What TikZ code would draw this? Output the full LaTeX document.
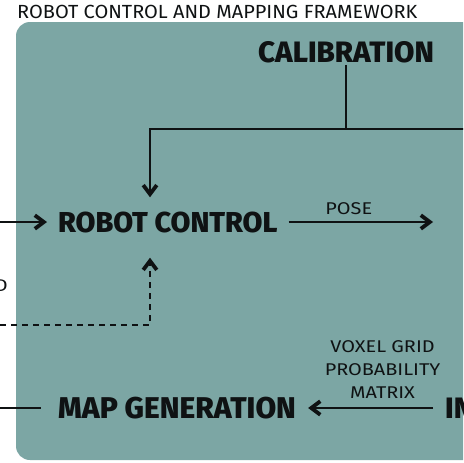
\documentclass[tikz,border=0pt]{standalone}
\usepackage{fontspec}
\setmainfont{Fira Sans}
\newfontfamily\heavyfont{Fira Sans ExtraBold}
\usetikzlibrary{arrows.meta}
\definecolor{panel}{HTML}{7CA6A4}
\definecolor{ink}{HTML}{0F1213}
\tikzset{
  block/.style={font=\heavyfont\fontsize{29.5}{31}\selectfont, text=ink, inner sep=2pt},
  tag/.style={font=\addfontfeatures{FakeStretch=1.17}\fontsize{17}{23}\selectfont, text=ink, align=center, inner sep=1pt},
  arr/.style={draw=ink, line width=1.4pt, -{Straight Barb[length=9pt,width=13.5pt,line width=3.8pt]}},
  wire/.style={draw=ink, line width=1.4pt}
}
\begin{document}
\begin{tikzpicture}[x=1pt,y=-1pt]
    \useasboundingbox (0,0) rectangle (463,463);
    \clip (0,0) rectangle (463,463);
    \fill[panel, rounded corners=14pt] (16,22) rectangle (500,460);
    \node[anchor=west, font=\addfontfeatures{FakeStretch=1.05}\fontsize{19}{21}\selectfont, text=ink, inner sep=0pt] (title) at (17,11.5) {ROBOT CONTROL AND MAPPING FRAMEWORK};
    \node[block] (calib) at (346,52) {CALIBRATION};
    \node[block, anchor=west, font=\heavyfont\fontsize{28.8}{31}\selectfont] (robot) at (56,222) {ROBOT CONTROL};
    \node[block, anchor=west, font=\heavyfont\fontsize{30}{32}\selectfont] (mapgen) at (56,408) {MAP GENERATION};
    \node[block, anchor=west] (integ) at (443,408) {IN};
    \node[tag, anchor=east] (dlbl) at (9,286) {D};
    \coordinate (jn) at (346,129);
    \coordinate (rt) at (470,129);
    \coordinate (inl) at (0,222);
    \coordinate (poseend) at (433,222);
    \coordinate (dsh) at (0,325);
    \coordinate (mapl) at (0,408);
    \coordinate (voxr) at (433,408);
    \draw[wire] (calib.south) -- (jn) -- (rt);
    \draw[arr] (jn) -| ([xshift=94pt,yshift=12pt]robot.north west);
    \draw[arr] (inl) -- ([xshift=-9pt]robot.west);
    \draw[arr] ([xshift=9pt]robot.east) -- node[tag, above=6pt, xshift=-12pt] (pose) {POSE} (poseend);
    \draw[arr, dashed, dash pattern=on 6pt off 5pt] (dsh) -| ([xshift=94pt,yshift=-23pt]robot.south west);
    \draw[wire] (mapl) -- ([xshift=-15pt]mapgen.west);
    \draw[arr] (voxr) -- node[tag, above=8pt, xshift=12pt] (voxel) {VOXEL GRID\\PROBABILITY\\MATRIX} ([xshift=10pt]mapgen.east);
\end{tikzpicture}
\end{document}
